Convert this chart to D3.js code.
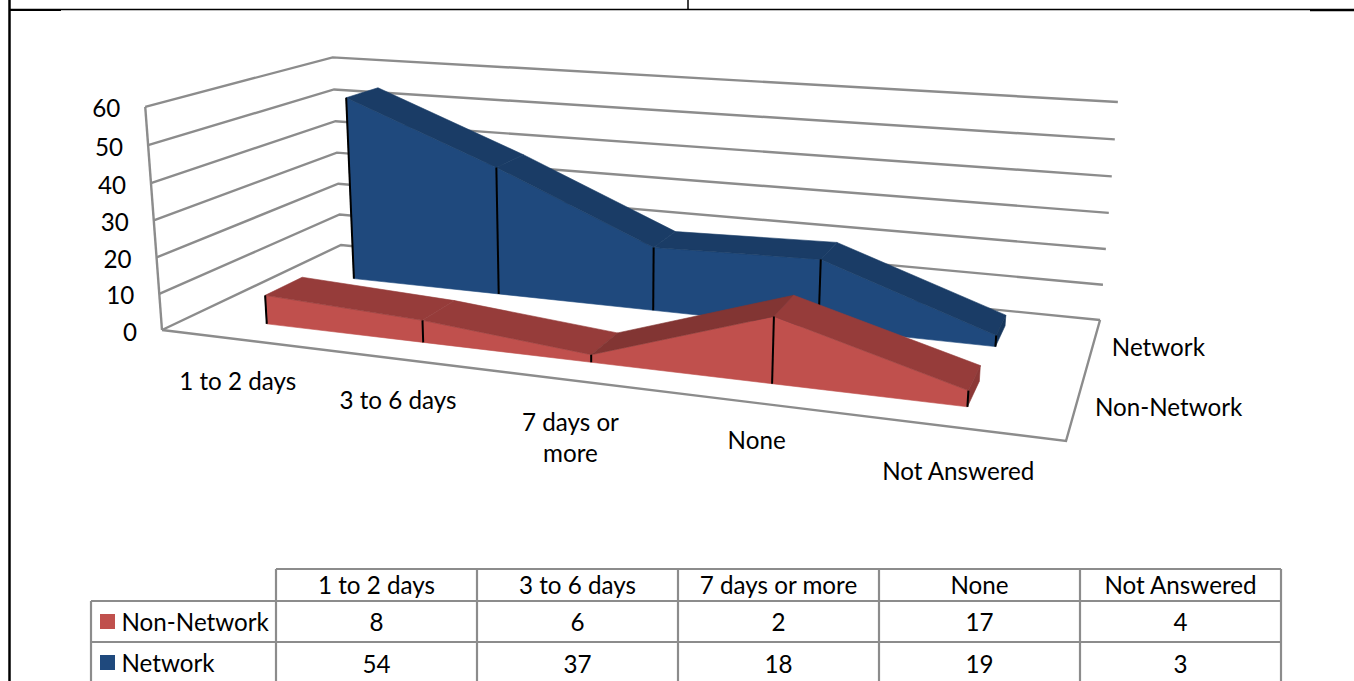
<!DOCTYPE html>
<html>
<head>
<meta charset="utf-8">
<script src="https://cdn.jsdelivr.net/npm/d3@7/dist/d3.min.js"></script>
<style>
html,body{margin:0;padding:0;background:#fff;overflow:hidden}
svg{display:block}
text{font-family:Lato,"Open Sans",sans-serif;fill:#000;font-size:24.2px}
</style>
</head>
<body>
<svg id="c" width="1354" height="681"></svg>
<script>
const categories = ["1 to 2 days","3 to 6 days","7 days or more","None","Not Answered"];
const seriesNames = ["Non-Network","Network"];
const nonNetwork = [8,6,2,17,4];
const network = [54,37,18,19,3];
const yTicks = [0,10,20,30,40,50,60];
const seriesColors = ["#c0504d","#1f497d"];
const topColors = ["#963c3a","#1a3c66"];
const risingColors = ["#823533","#1a3c66"];
const capColors = ["#8c3836","#16365c"];

const seriesValues = [nonNetwork, network];
const W = 1354, H = 681, GRID = "#8c8c8c";
const svg = d3.select("#c");
svg.append("rect").attr("width",W).attr("height",H).attr("fill","#fff");

// perspective camera fitted to the floor and wall of the chart
const cam = {a:718.2,b:246.8,c:162,d:34.1,e:-36.3,f:330,g:-.1743,h:.1988,vx:-22,vy:-227,vw:-.036};
function project(u,v,t){
  const w = cam.g*u + cam.h*v + 1 + cam.vw*t;
  return [(cam.a*u + cam.b*v + cam.c + cam.vx*t)/w, (cam.d*u + cam.e*v + cam.f + cam.vy*t)/w];
}
const uScale = d3.scalePoint().domain(categories).range([.099,.899]);
const tScale = d3.scaleLinear().domain([0,60]).range([0,1]);
const depthStart = d3.scaleOrdinal().domain(seriesNames).range([.15,.65]);
const depthEnd = d3.scaleOrdinal().domain(seriesNames).range([.35,.85]);
const line = d3.line();

// walls
const g = svg.append("g").attr("fill","none").attr("stroke",GRID).attr("stroke-width",2.4);
yTicks.forEach(tk=>{
  const t = tScale(tk);
  g.append("path").attr("d",line([project(0,0,t),project(0,1,t),project(1,1,t)]));
});
g.append("path").attr("d",line([project(0,0,0),project(0,0,1)]));
g.append("path").attr("d",line([project(0,0,0),project(1,0,0),project(1,1,0)]));

// ribbons: back series first
[1,0].forEach(si=>{
  const name = seriesNames[si], vals = seriesValues[si];
  const v0 = depthStart(name), v1 = depthEnd(name);
  const rg = svg.append("g");
  const poly = (pts,fill)=>rg.append("path").attr("d",line(pts)+"Z").attr("fill",fill).attr("stroke",fill).attr("stroke-width",.6);
  const n = categories.length;
  // front face
  const topPts = categories.map((c,i)=>project(uScale(c),v0,tScale(vals[i])));
  const basePts = categories.map(c=>project(uScale(c),v0,0)).reverse();
  poly(topPts.concat(basePts),seriesColors[si]);
  // top faces
  for(let i=0;i<n-1;i++){
    const ua=uScale(categories[i]), ub=uScale(categories[i+1]);
    const ta=tScale(vals[i]), tb=tScale(vals[i+1]);
    poly([project(ua,v0,ta),project(ub,v0,tb),project(ub,v1,tb),project(ua,v1,ta)], tb>ta ? risingColors[si] : topColors[si]);
  }
  // right cap
  const ue = uScale(categories[n-1]), te = tScale(vals[n-1]);
  poly([project(ue,v0,te),project(ue,v1,te),project(ue,v1,0),project(ue,v0,0)],capColors[si]);
  // drop lines
  categories.forEach((c,i)=>{
    rg.append("path").attr("d",line([project(uScale(c),v0,tScale(vals[i])),project(uScale(c),v0,0)]))
      .attr("stroke","#000").attr("stroke-width",2).attr("fill","none");
  });
});

// value axis labels
yTicks.forEach(tk=>{
  const p = project(0,0,tScale(tk));
  svg.append("text").attr("x",p[0]-25).attr("y",p[1]+1).attr("text-anchor","end").attr("dominant-baseline","central").text(tk);
});
// category labels
const catLines = {"7 days or more":["7 days or","more"]};
const catOffset = [41,41,41,37,43];
categories.forEach((c,ci)=>{
  const p = project(uScale(c),0,0);
  const ls = catLines[c] || [c];
  ls.forEach((l,i)=>svg.append("text").attr("x",p[0]+.5).attr("y",p[1]+catOffset[ci]+i*31).attr("text-anchor","middle").attr("dominant-baseline","central").text(l));
});
// series labels
seriesNames.forEach(s=>{
  const p = project(1,(depthStart(s)+depthEnd(s))/2,0);
  svg.append("text").attr("x",p[0]+19).attr("y",p[1]+1).attr("dominant-baseline","central").text(s);
});

// data table
const colX = d3.scaleLinear().domain([0,categories.length]).range([276,1281]);
const rowY = [569,601,642,683];
const tg = svg.append("g").attr("stroke",GRID).attr("stroke-width",2.2);
tg.append("line").attr("x1",colX(0)).attr("x2",colX(5)).attr("y1",rowY[0]).attr("y2",rowY[0]);
[1,2,3].forEach(r=>tg.append("line").attr("x1",91).attr("x2",colX(5)).attr("y1",rowY[r]).attr("y2",rowY[r]));
d3.range(6).forEach(i=>tg.append("line").attr("x1",colX(i)).attr("x2",colX(i)).attr("y1",rowY[0]).attr("y2",H));
tg.append("line").attr("x1",91).attr("x2",91).attr("y1",rowY[1]).attr("y2",H);
categories.forEach((c,i)=>{
  const x=(colX(i)+colX(i+1))/2;
  svg.append("text").attr("x",x).attr("y",584.5).attr("text-anchor","middle").attr("dominant-baseline","central").text(c);
  seriesValues.forEach((vals,si)=>{
    svg.append("text").attr("x",x).attr("y",[621.5,663.5][si]).attr("text-anchor","middle").attr("dominant-baseline","central").text(vals[i]);
  });
});
seriesNames.forEach((s,si)=>{
  const y=[622,663][si];
  svg.append("rect").attr("x",100).attr("y",y-8).attr("width",15).attr("height",15).attr("fill",seriesColors[si]);
  svg.append("text").attr("x",121.5).attr("y",y-.5).attr("dominant-baseline","central").text(s);
});

// page frame
const fr = svg.append("g").attr("stroke","#000");
fr.append("line").attr("x1",9.5).attr("x2",9.5).attr("y1",0).attr("y2",H).attr("stroke-width",2.5);
fr.append("line").attr("x1",10).attr("x2",1310).attr("y1",9.5).attr("y2",9.5).attr("stroke-width",1.4);
fr.append("line").attr("x1",10).attr("x2",61).attr("y1",10).attr("y2",10).attr("stroke-width",2);
fr.append("line").attr("x1",1310).attr("x2",W).attr("y1",10).attr("y2",10).attr("stroke-width",2.5);
fr.append("line").attr("x1",688).attr("x2",688).attr("y1",0).attr("y2",10).attr("stroke-width",1.5);
</script>
</body>
</html>
